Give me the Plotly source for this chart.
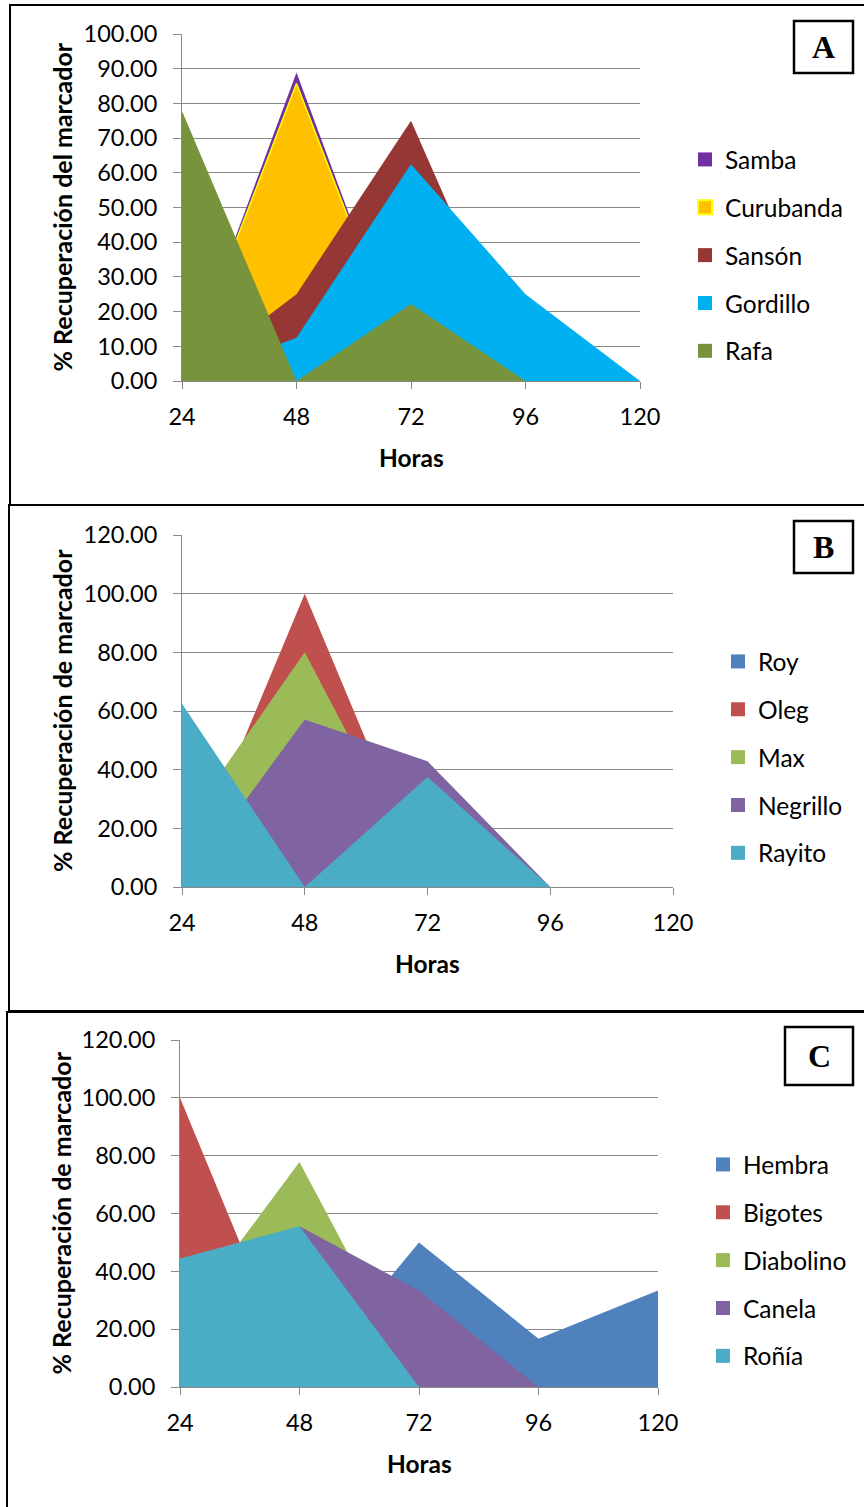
import plotly.graph_objects as go

# ---------------- data ----------------
hours = [24, 48, 72, 96, 120]

# Panel A
names_a = ["Samba", "Curubanda", "Sansón", "Gordillo", "Rafa"]
samba = [0, 88.89, 0, 0, 0]
curubanda = [0, 85.71, 0, 0, 0]
sanson = [0, 25.0, 75.0, 0, 0]
gordillo = [0, 12.5, 62.5, 25.0, 0]
rafa = [77.78, 0, 22.22, 0, 0]

# Panel B
names_b = ["Roy", "Oleg", "Max", "Negrillo", "Rayito"]
roy = [0, 0, 0, 0, 0]
oleg = [0, 100.0, 0, 0, 0]
max_ = [20.0, 80.0, 0, 0, 0]
negrillo = [0, 57.14, 42.86, 0, 0]
rayito = [62.5, 0, 37.5, 0, 0]

# Panel C
names_c = ["Hembra", "Bigotes", "Diabolino", "Canela", "Roñía"]
hembra = [0, 0, 50.0, 16.67, 33.33]
bigotes = [100.0, 0, 0, 0, 0]
diabolino = [22.22, 77.78, 0, 0, 0]
canela = [0, 55.56, 33.33, 0, 0]
ronia = [44.44, 55.56, 0, 0, 0]

ytitle_a = "% Recuperación del marcador"
ytitle_bc = "% Recuperación de marcador"
xtitle = "Horas"

# ---------------- styling ----------------
W, H = 864, 1507
FONT = "Lato"
GRID = "#898989"

def px(x):
    return x / W

def py(y):
    return 1 - y / H

colors_a = ["#7030A0", "#FFC000", "#953735", "#00B0F0", "#77933C"]
lines_a = [None, "#FFFF00", None, None, None]
colors_bc = ["#4F81BD", "#C0504D", "#9BBB59", "#8064A2", "#4BACC6"]

panels = [
    dict(names=names_a, values=[samba, curubanda, sanson, gordillo, rafa],
         colors=colors_a, lines=lines_a, ymax=100, dtick=10,
         x0=182, x1=640, ytop=34, ybot=381, ytitle=ytitle_a,
         legend_x=685, legend_y=137, letter="A", box=(794, 21, 853, 73),
         frame=(10, 5, 866, 505), ytitle_x=62, xtitle_y=457),
    dict(names=names_b, values=[roy, oleg, max_, negrillo, rayito],
         colors=colors_bc, lines=[None] * 5, ymax=120, dtick=20,
         x0=182, x1=673, ytop=535, ybot=887, ytitle=ytitle_bc,
         legend_x=718, legend_y=639, letter="B", box=(794, 521, 853, 573),
         frame=(9, 505, 866, 1011), ytitle_x=62, xtitle_y=963),
    dict(names=names_c, values=[hembra, bigotes, diabolino, canela, ronia],
         colors=colors_bc, lines=[None] * 5, ymax=120, dtick=20,
         x0=180, x1=658, ytop=1040, ybot=1387, ytitle=ytitle_bc,
         legend_x=703, legend_y=1142, letter="C", box=(785, 1027, 853, 1085),
         frame=(7, 1012, 866, 1509), ytitle_x=60, xtitle_y=1463),
]

fig = go.Figure()
shapes = []
annotations = []
layout = dict(
    width=W, height=H, autosize=False,
    margin=dict(l=0, r=0, t=0, b=0, pad=0, autoexpand=False),
    paper_bgcolor="white", plot_bgcolor="white",
    font=dict(family=FONT, size=23, color="black"),
)

for i, p in enumerate(panels):
    k = "" if i == 0 else str(i + 1)
    xa, ya = "x" + k, "y" + k
    leg = "legend" + k
    for name, vals, col, lc in zip(p["names"], p["values"], p["colors"], p["lines"]):
        fig.add_trace(go.Scatter(
            x=hours, y=vals, mode="lines", fill="tozeroy", fillcolor=col,
            line=dict(color=lc if lc else col, width=1.5 if lc else 0),
            showlegend=False, hoverinfo="skip", xaxis=xa, yaxis=ya,
        ))
    for name, col, lc in zip(p["names"], p["colors"], p["lines"]):
        fig.add_trace(go.Scatter(
            x=[None], y=[None], mode="markers", name=name,
            marker=dict(symbol="square", size=14, color=col,
                        line=dict(color=lc if lc else col, width=2 if lc else 0)),
            legend=leg, legendgroup=name, xaxis=xa, yaxis=ya,
        ))
    layout["xaxis" + k] = dict(
        domain=[px(p["x0"]), px(p["x1"])], anchor=ya, automargin=False,
        range=[24, 120], tickvals=hours, ticktext=[str(h) for h in hours],
        showgrid=False, zeroline=False, showline=True, linecolor=GRID, linewidth=1,
        ticks="outside", ticklen=7, tickcolor=GRID, tickwidth=1,
        ticklabelstandoff=8,
        tickfont=dict(family=FONT, size=23.5, color="black"),
    )
    layout["yaxis" + k] = dict(
        domain=[py(p["ybot"]), py(p["ytop"])], anchor=xa, automargin=False,
        range=[0, p["ymax"]], dtick=p["dtick"], tickformat=".2f",
        showgrid=True, gridcolor=GRID, gridwidth=1,
        zeroline=False, showline=True, linecolor=GRID, linewidth=1,
        ticks="outside", ticklen=8, tickcolor=GRID, tickwidth=1,
        ticklabelstandoff=11,
        tickfont=dict(family=FONT, size=23.5, color="black"),
    )
    layout[leg] = dict(
        x=px(p["legend_x"]), y=py(p["legend_y"]), xanchor="left", yanchor="top",
        xref="paper", yref="paper",
        font=dict(family=FONT, size=24.5, color="black"),
        bgcolor="rgba(0,0,0,0)", traceorder="grouped", tracegroupgap=13,
        itemsizing="trace", itemclick=False, itemdoubleclick=False,
    )
    annotations.append(dict(
        text="<b>%s</b>" % p["ytitle"], textangle=-90, showarrow=False,
        xref="paper", yref="paper", x=px(p["ytitle_x"]),
        y=py((p["ytop"] + p["ybot"]) / 2), xanchor="center", yanchor="middle",
        font=dict(family=FONT, size=25, color="black"),
    ))
    annotations.append(dict(
        text="<b>%s</b>" % xtitle, showarrow=False,
        xref="paper", yref="paper", x=px((p["x0"] + p["x1"]) / 2),
        y=py(p["xtitle_y"]), xanchor="center", yanchor="middle",
        font=dict(family=FONT, size=24.5, color="black"),
    ))
    bx0, by0, bx1, by1 = p["box"]
    shapes.append(dict(type="rect", xref="paper", yref="paper",
                       x0=px(bx0), x1=px(bx1), y0=py(by1), y1=py(by0),
                       line=dict(color="black", width=2.5), fillcolor="white"))
    annotations.append(dict(
        text="<b>%s</b>" % p["letter"], showarrow=False,
        xref="paper", yref="paper", x=px((bx0 + bx1) / 2), y=py((by0 + by1) / 2),
        xanchor="center", yanchor="middle",
        font=dict(family="Liberation Serif", size=32, color="black"),
    ))
    fx0, fy0, fx1, fy1 = p["frame"]
    shapes.append(dict(type="rect", xref="paper", yref="paper",
                       x0=px(fx0), x1=px(fx1), y0=py(fy1), y1=py(fy0),
                       line=dict(color="black", width=2), layer="below"))

layout["shapes"] = shapes
layout["annotations"] = annotations
fig.update_layout(**layout)

post = ("document.documentElement.style.margin='0px';"
        "document.body.style.margin='0px';document.body.style.padding='0px';"
        "document.documentElement.style.overflow='hidden';"
        "document.body.style.overflow='hidden';")
fig.write_html("out.html", config={"displayModeBar": False}, post_script=post)
